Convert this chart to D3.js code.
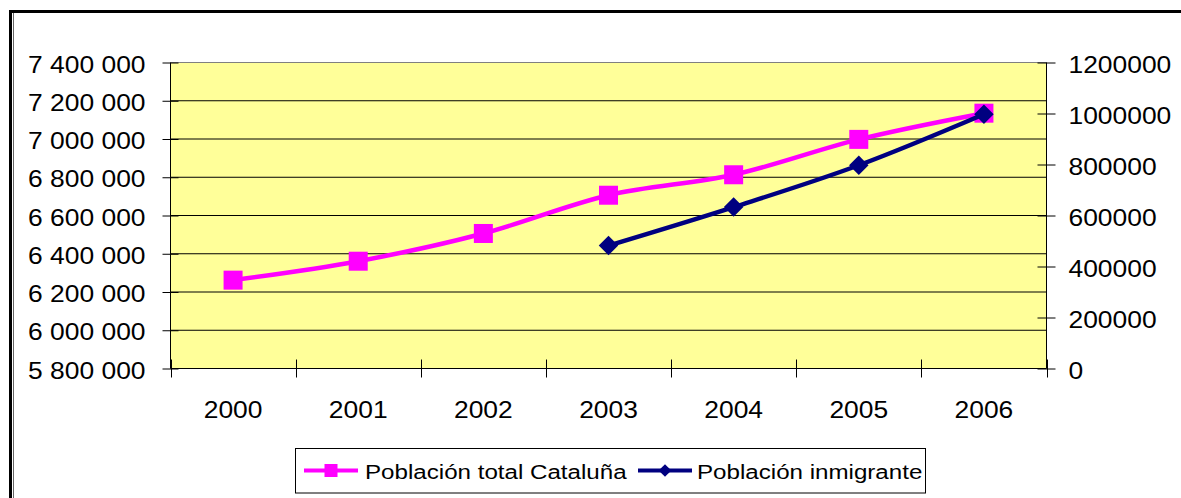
<!DOCTYPE html>
<html>
<head>
<meta charset="utf-8">
<script src="https://cdn.jsdelivr.net/npm/d3@7"></script>
<style>
  html, body { margin: 0; padding: 0; background: #fff; }
  svg { display: block; }
  text { font-family: "Liberation Sans", Arial, sans-serif; fill: #000; }
</style>
</head>
<body>
<svg id="chart" width="1181" height="498"></svg>
<script>
// ---- data ----
const years = ["2000", "2001", "2002", "2003", "2004", "2005", "2006"];
const poblacionTotal = [6262000, 6361000, 6506000, 6706000, 6813000, 6998000, 7135000];
const inmigranteYears = ["2003", "2004", "2005", "2006"];
const poblacionInmigrante = [482000, 633000, 797000, 997000];
const leftTicks = [5800000, 6000000, 6200000, 6400000, 6600000, 6800000, 7000000, 7200000, 7400000];
const rightTicks = [0, 200000, 400000, 600000, 800000, 1000000, 1200000];
const seriesNames = ["Población total Cataluña", "Población inmigrante"];

// ---- layout ----
const W = 1181, H = 498;
const plot = { left: 170.5, right: 1046.5, top: 62.5, bottom: 368.5 };
const axisFont = 24, axisStretch = 1.1;
const legendFont = 21, legendStretch = 1.15;
const pink = "#FF00FF", navy = "#000080", plotBg = "#FFFF99";

const svg = d3.select("#chart");
svg.append("rect").attr("width", W).attr("height", H).attr("fill", "#fff");

// outer frame (partially visible)
svg.append("rect").attr("x", 10.5).attr("y", 11.5).attr("width", W + 20).attr("height", H + 20)
  .attr("fill", "none").attr("stroke", "#000").attr("stroke-width", 3);
svg.append("line").attr("x1", 13.5).attr("x2", 13.5).attr("y1", 13).attr("y2", H)
  .attr("stroke", "#666").attr("stroke-width", 1);

// scales
const x = d3.scaleBand().domain(years).range([plot.left, plot.right]).padding(0);
const yL = d3.scaleLinear().domain([5800000, 7400000]).range([plot.bottom, plot.top]);
const yR = d3.scaleLinear().domain([0, 1200000]).range([plot.bottom, plot.top]);

// plot area
svg.append("rect").attr("x", plot.left).attr("y", plot.top)
  .attr("width", plot.right - plot.left).attr("height", plot.bottom - plot.top)
  .attr("fill", plotBg);

// gridlines
svg.append("g").selectAll("line").data(leftTicks.slice(1)).join("line")
  .attr("x1", plot.left).attr("x2", plot.right)
  .attr("y1", d => yL(d)).attr("y2", d => yL(d))
  .attr("stroke", d => d === 7400000 ? "#808080" : "#000").attr("stroke-width", 1);

// left axis
const fmtSpace = v => d3.format(",")(v).replace(/,/g, " ");
const gL = svg.append("g").attr("transform", `translate(${plot.left},0)`)
  .call(d3.axisLeft(yL).tickValues(leftTicks).tickFormat(fmtSpace).tickSize(8).tickPadding(17));
gL.select(".domain").attr("stroke", "#000").attr("d", `M0,${plot.top}V${plot.bottom}`);
gL.selectAll(".tick line").attr("x1", 8).attr("x2", -8).attr("stroke", "#000");
gL.selectAll(".tick text")
  .attr("font-size", axisFont).attr("font-family", "Liberation Sans, Arial, sans-serif")
  .attr("dy", null).attr("dominant-baseline", "central")
  .each(function() {
    const t = d3.select(this);
    const xx = +t.attr("x");
    t.attr("x", 0).attr("transform", `translate(${xx},1) scale(${axisStretch},1)`);
  });

// right axis
const gR = svg.append("g").attr("transform", `translate(${plot.right},0)`)
  .call(d3.axisRight(yR).tickValues(rightTicks).tickFormat(d3.format("d")).tickSize(9).tickPadding(13));
gR.select(".domain").attr("stroke", "#000").attr("d", `M0,${plot.top}V${plot.bottom}`);
gR.selectAll(".tick line").attr("x1", -9).attr("x2", 9).attr("stroke", "#000");
gR.selectAll(".tick text")
  .attr("font-size", axisFont).attr("font-family", "Liberation Sans, Arial, sans-serif")
  .attr("dy", null).attr("dominant-baseline", "central")
  .each(function() {
    const t = d3.select(this);
    const xx = +t.attr("x");
    t.attr("x", 0).attr("transform", `translate(${xx},1) scale(${axisStretch},1)`);
  });

// bottom axis (labels at centres, ticks at category boundaries)
const gB = svg.append("g").attr("transform", `translate(0,${plot.bottom})`)
  .call(d3.axisBottom(x).tickSize(0).tickPadding(30));
gB.select(".domain").attr("stroke", "#000").attr("d", `M${plot.left},0H${plot.right}`);
gB.selectAll(".tick text")
  .attr("font-size", axisFont).attr("font-family", "Liberation Sans, Arial, sans-serif")
  .attr("dy", null)
  .each(function() {
    const t = d3.select(this);
    const yy = +t.attr("y");
    t.attr("y", 0).attr("transform", `translate(0,${yy + 19}) scale(${axisStretch},1)`);
  });
const bounds = years.map(y => x(y)).concat([x(years[years.length - 1]) + x.bandwidth()]);
gB.append("g").selectAll("line").data(bounds).join("line")
  .attr("x1", d => Math.round(d) + 0.5).attr("x2", d => Math.round(d) + 0.5)
  .attr("y1", -9).attr("y2", 9).attr("stroke", "#000");

// series
const curve = d3.curveCardinal.tension(0);
const totalPts = years.map((y, i) => [x(y) + x.bandwidth() / 2, yL(poblacionTotal[i])]);
const inmPts = inmigranteYears.map((y, i) => [x(y) + x.bandwidth() / 2, yR(poblacionInmigrante[i])]);

svg.append("path").attr("d", d3.line().curve(curve)(totalPts))
  .attr("fill", "none").attr("stroke", pink).attr("stroke-width", 4.5);
svg.append("g").selectAll("rect").data(totalPts).join("rect")
  .attr("x", d => d[0] - 9.5).attr("y", d => d[1] - 9.5)
  .attr("width", 19).attr("height", 19).attr("fill", pink);

svg.append("path").attr("d", d3.line().curve(curve)(inmPts))
  .attr("fill", "none").attr("stroke", navy).attr("stroke-width", 4.5);
svg.append("g").selectAll("path").data(inmPts).join("path")
  .attr("transform", d => `translate(${d[0]},${d[1]}) rotate(45)`)
  .attr("d", d3.symbol().type(d3.symbolSquare).size(190)())
  .attr("fill", navy);

// legend
const lg = svg.append("g");
lg.append("rect").attr("x", 295.5).attr("y", 448.5).attr("width", 630).attr("height", 44.5)
  .attr("fill", "#fff").attr("stroke", "#000").attr("stroke-width", 1);
const legendItems = [
  { name: seriesNames[0], color: pink, lx: 304, tx: 365, marker: "square" },
  { name: seriesNames[1], color: navy, lx: 638, tx: 697, marker: "diamond" }
];
const ly = 470.5;
legendItems.forEach(it => {
  lg.append("line").attr("x1", it.lx).attr("x2", it.lx + 54).attr("y1", ly).attr("y2", ly)
    .attr("stroke", it.color).attr("stroke-width", 4);
  if (it.marker === "square") {
    lg.append("rect").attr("x", it.lx + 27 - 6.5).attr("y", ly - 6.5).attr("width", 13).attr("height", 13)
      .attr("fill", it.color);
  } else {
    lg.append("path").attr("transform", `translate(${it.lx + 27},${ly}) rotate(45)`)
      .attr("d", d3.symbol().type(d3.symbolSquare).size(80)()).attr("fill", it.color);
  }
  lg.append("text").attr("transform", `translate(${it.tx},${ly + 8}) scale(${legendStretch},1)`)
    .attr("font-size", legendFont).text(it.name);
});
</script>
</body>
</html>
